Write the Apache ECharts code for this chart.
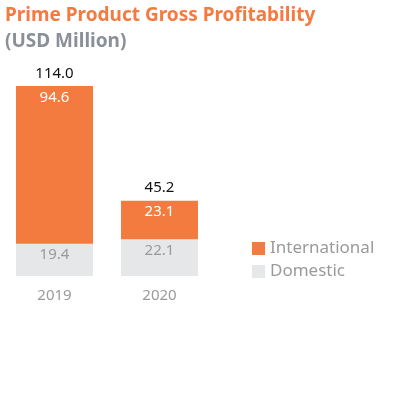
<!DOCTYPE html>
<html>
<head>
<meta charset="utf-8">
<script src="https://cdn.jsdelivr.net/npm/echarts@6/dist/echarts.min.js"></script>
<style>
  html, body { margin: 0; padding: 0; background: #fff; }
  #chart { width: 413px; height: 397px; }
</style>
</head>
<body>
<div id="chart"></div>
<script>
const years = ['2019', '2020'];
const domestic = [19.4, 22.1];
const international = [94.6, 23.1];
const totals = [114.0, 45.2];

const orange = '#F47B3F';
const lightGray = '#E6E7E8';
const textGray = '#9a9a9a';
const font = '"Noto Sans", sans-serif';

const chart = echarts.init(document.getElementById('chart'));

const option = {
    animation: false,
    textStyle: { fontFamily: font },
    title: [
        {
            text: 'Prime Product Gross Profitability',
            left: 0,
            top: 1,
            textStyle: { color: orange, fontSize: 19, fontWeight: 'bold', fontFamily: font },
        },
        {
            text: '(USD Million)',
            left: 0,
            top: 27,
            textStyle: { color: '#8a8f99', fontSize: 19, fontWeight: 'bold', fontFamily: font },
        },
    ],
    legend: {
        data: ['International', 'Domestic'],
        orient: 'vertical',
        left: 247,
        top: 235,
        itemWidth: 13,
        itemHeight: 13,
        itemGap: 6,
        icon: 'rect',
        textStyle: { color: textGray, fontSize: 17, fontFamily: font },
    },
    grid: {
        left: 2,
        width: 210,
        top: 86,
        height: 190,
    },
    xAxis: {
        type: 'category',
        data: years,
        axisLine: { show: false },
        axisTick: { show: false },
        axisLabel: { color: textGray, fontSize: 15, margin: 12, fontFamily: font },
    },
    yAxis: {
        type: 'value',
        min: 0,
        max: 114,
        show: false,
        splitLine: { show: false },
    },
    series: [
        {
            name: 'Domestic',
            type: 'bar',
            stack: 'total',
            barWidth: 77,
            itemStyle: { color: lightGray },
            label: {
                show: true,
                position: 'insideTop',
                distance: 4,
                color: textGray,
                fontSize: 15,
                formatter: (p) => p.value.toFixed(1),
            },
            data: domestic,
        },
        {
            name: 'International',
            type: 'bar',
            stack: 'total',
            barWidth: 77,
            itemStyle: { color: orange },
            label: {
                show: true,
                position: 'insideTop',
                distance: 4,
                color: '#fff',
                fontSize: 15,
                formatter: (p) => p.value.toFixed(1),
            },
            data: international,
        },
        {
            name: 'Total',
            type: 'bar',
            barWidth: 77,
            barGap: '-100%',
            itemStyle: { color: 'rgba(0,0,0,0)' },
            label: {
                show: true,
                position: 'top',
                distance: 5,
                color: '#111',
                fontSize: 15,
                formatter: (p) => p.value.toFixed(1),
            },
            silent: true,
            data: totals,
            z: 1,
        },
    ],
};

chart.setOption(option);
</script>
</body>
</html>
